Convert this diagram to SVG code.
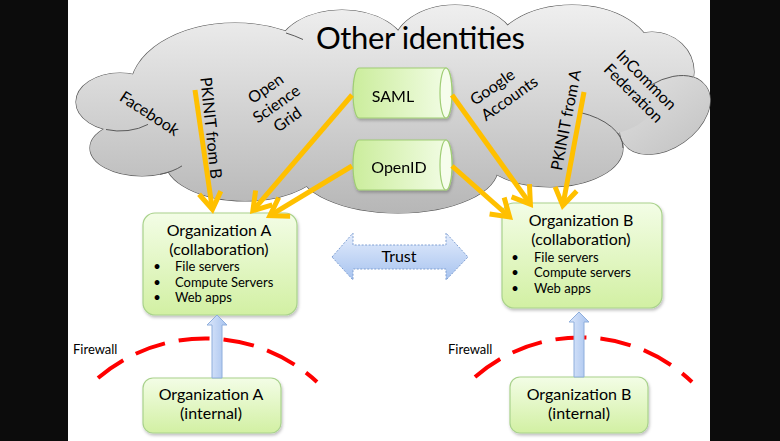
<svg xmlns="http://www.w3.org/2000/svg" width="780" height="441" viewBox="0 0 780 441">
<style>
.t{font-family:Lato,'Liberation Sans',sans-serif;fill:#000}
.m{text-anchor:middle}
.s{font-size:13px}
.l{font-size:16px}
.box{fill:url(#gBox);stroke:#a9d28c;stroke-width:1.2}
.cyl{fill:url(#gCyl);stroke:#9fcd74;stroke-width:1.2}
.cap{fill:#f6fdec;stroke:#9fcd74;stroke-width:1.2}
.conn{stroke:#ffc000;stroke-width:5;fill:none;marker-end:url(#head)}
.fw{fill:none;stroke:#ff0000;stroke-width:4;stroke-dasharray:31 14}
.up{fill:url(#gUp);stroke:#8eaedc;stroke-width:1}
.inner{fill:none;stroke:#5a5a5a;stroke-width:1}
</style>
<defs>
<linearGradient id="gCloud" gradientUnits="userSpaceOnUse" x1="0" y1="5" x2="0" y2="215">
<stop offset="0" stop-color="#efefef"/><stop offset="1" stop-color="#b6b6b6"/>
</linearGradient>
<linearGradient id="gBox" x1="0" y1="0" x2="0" y2="1"><stop offset="0" stop-color="#f3fde6"/><stop offset="1" stop-color="#d2f0a3"/></linearGradient>
<linearGradient id="gCyl" x1="0" y1="0" x2="1" y2="0"><stop offset="0" stop-color="#cbed9c"/><stop offset="1" stop-color="#f3fde7"/></linearGradient>
<linearGradient id="gTrust" x1="0" y1="0" x2="0" y2="1"><stop offset="0" stop-color="#e3ecfc"/><stop offset="1" stop-color="#a7c3ef"/></linearGradient>
<linearGradient id="gUp" x1="0" y1="0" x2="1" y2="0"><stop offset="0" stop-color="#dde8fb"/><stop offset="1" stop-color="#a6c2ee"/></linearGradient>
<filter id="shadow" x="-10%" y="-10%" width="130%" height="140%"><feDropShadow dx="1" dy="2" stdDeviation="1.5" flood-color="#000" flood-opacity="0.25"/></filter>
<marker id="head" markerUnits="userSpaceOnUse" markerWidth="40" markerHeight="40" viewBox="-30 -20 40 40" refX="0" refY="0" orient="auto">
<path d="M-17,-11 L0,0 L-17,11" fill="none" stroke="#ffc000" stroke-width="5"/>
</marker>
<g id="lobes">
<ellipse cx="120" cy="102" rx="44" ry="29"/>
<ellipse cx="142" cy="148" rx="52" ry="28"/>
<ellipse cx="235" cy="90" rx="105" ry="67"/>
<ellipse cx="245" cy="160" rx="80" ry="41"/>
<ellipse cx="342" cy="50" rx="64" ry="40"/>
<ellipse cx="455" cy="48" rx="62" ry="43"/>
<ellipse cx="398" cy="168" rx="100" ry="45"/>
<ellipse cx="572" cy="55" rx="80" ry="50"/>
<ellipse cx="652" cy="72" rx="42" ry="40"/>
<ellipse cx="665" cy="115" rx="50" ry="33" transform="rotate(-35 665 115)"/>
<ellipse cx="550" cy="148" rx="73" ry="39"/>
</g>
</defs>
<rect x="0" y="0" width="780" height="441" fill="#0c0c0c"/>
<rect x="68" y="0" width="642" height="441" fill="#ffffff"/>

<g id="other-identities">
<use href="#lobes" fill="url(#gCloud)" stroke="#5a5a5a" stroke-width="1.2"/>
<use href="#lobes" fill="url(#gCloud)" stroke="none"/>
<ellipse cx="400" cy="110" rx="215" ry="65" fill="url(#gCloud)"/>
<ellipse cx="600" cy="90" rx="60" ry="45" fill="url(#gCloud)"/>
<path class="inner" d="M106,129.5 A44 29 0 0 0 148 124.4"/>
<path class="inner" d="M160,174.3 A52 28 0 0 0 182 165.9"/>
<path class="inner" d="M286,33 A105 67 0 0 1 303 39.5"/>
<path class="inner" d="M580,112.4 A73 39 0 0 1 623 148"/>
<path class="inner" d="M651,85 A50 33 -35 0 1 693 77"/>
<text class="t" x="316" y="49" font-size="31" textLength="209">Other identities</text>
</g>

<g id="labels">
<text class="t l m" transform="translate(149.5,113.5) rotate(33)" y="5.5">Facebook</text>
<text class="t l m" transform="translate(211,128) rotate(84)" y="5.5">PKINIT from B</text>
<g transform="translate(276.5,104) rotate(-35)">
<text class="t l m" y="-13.5">Open</text>
<text class="t l m" y="5.5">Science</text>
<text class="t l m" y="24.5">Grid</text>
</g>
<g transform="translate(475,106) rotate(-35)">
<text class="t l" y="0">Google</text>
<text class="t l" y="19">Accounts</text>
</g>
<text class="t l m" transform="translate(566,120) rotate(-79)" y="5.5">PKINIT from A</text>
<g transform="translate(646.5,80) rotate(45)">
<text class="t l m" y="5.5">InCommon</text>
<text class="t l m" y="24">Federation</text>
</g>
</g>

<g id="saml" filter="url(#shadow)">
<path class="cyl" d="M359,68 H446 A6,25 0 0 1 446,118 H359 A6,25 0 0 1 359,68 Z"/>
<ellipse class="cap" cx="446" cy="93" rx="6" ry="25"/>
<text class="t l m" x="393" y="102">SAML</text>
</g>
<g id="openid" filter="url(#shadow)">
<path class="cyl" d="M359,140 H446 A6,25 0 0 1 446,190 H359 A6,25 0 0 1 359,140 Z"/>
<ellipse class="cap" cx="446" cy="165" rx="6" ry="25"/>
<text class="t l m" x="399" y="173">OpenID</text>
</g>

<g id="org-a-collab">
<rect class="box" x="143" y="213" width="154" height="102" rx="12" filter="url(#shadow)"/>
<text class="t l m" x="219" y="236">Organization A</text>
<text class="t l m" x="219" y="255">(collaboration)</text>
<text class="t s m" x="157" y="271">•</text><text class="t s" x="175" y="271">File servers</text>
<text class="t s m" x="157" y="287">•</text><text class="t s" x="175" y="287">Compute Servers</text>
<text class="t s m" x="157" y="302">•</text><text class="t s" x="175" y="302">Web apps</text>
</g>

<g id="org-b-collab">
<rect class="box" x="502" y="203" width="160" height="105" rx="12" filter="url(#shadow)"/>
<text class="t l m" x="581" y="226">Organization B</text>
<text class="t l m" x="581" y="245">(collaboration)</text>
<text class="t s m" x="515" y="262">•</text><text class="t s" x="534" y="262">File servers</text>
<text class="t s m" x="515" y="277">•</text><text class="t s" x="534" y="277">Compute servers</text>
<text class="t s m" x="515" y="293">•</text><text class="t s" x="534" y="293">Web apps</text>
</g>

<g id="org-a-internal">
<rect class="box" x="143" y="378" width="138" height="55" rx="10" filter="url(#shadow)"/>
<text class="t l m" x="211" y="400">Organization A</text>
<text class="t l m" x="211" y="419">(internal)</text>
</g>

<g id="org-b-internal">
<rect class="box" x="510" y="377" width="138" height="56" rx="10" filter="url(#shadow)"/>
<text class="t l m" x="579" y="400">Organization B</text>
<text class="t l m" x="579" y="419">(internal)</text>
</g>

<g id="trust">
<path d="M332,257 L353,233 L353,245 L446,245 L446,233 L468,257 L446,280 L446,269 L353,269 L353,280 Z" fill="url(#gTrust)" stroke="#7f9fd2" stroke-width="1" stroke-dasharray="2 1.5"/>
<text class="t l m" x="399" y="262">Trust</text>
</g>

<g id="firewall-a">
<path class="fw" d="M98,378 A165 165 0 0 1 317 382"/>
<text class="t s" x="73" y="354" fill="#333">Firewall</text>
</g>
<g id="firewall-b">
<path class="fw" d="M475,377 A161 161 0 0 1 692 382"/>
<text class="t s" x="448" y="354" fill="#333">Firewall</text>
</g>

<g id="connectors">
<path class="up" d="M217,315 L227,325 L222,325 L222,378 L212,378 L212,325 L207,325 Z"/>
<path class="up" d="M579,312 L589,322 L584,322 L584,377 L574,377 L574,322 L569,322 Z"/>
<path class="conn" d="M195,90 L212.4,209.5"/>
<path class="conn" d="M352,95 L252.9,210.6"/>
<path class="conn" d="M352,166 L269.9,215.7"/>
<path class="conn" d="M452,95 L530.4,204.3"/>
<path class="conn" d="M452,166 L509.6,217"/>
<path class="conn" d="M584,92 L562.8,205.6"/>
</g>
</svg>
